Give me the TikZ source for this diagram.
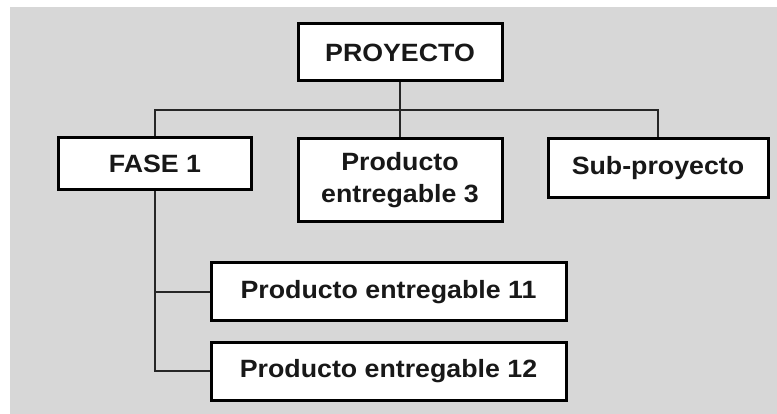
\documentclass[tikz,border=0pt]{standalone}
\usepackage{fontspec}
\setmainfont{Liberation Sans}[FakeStretch=1.07]
\definecolor{bggray}{HTML}{D7D7D7}
\definecolor{txt}{HTML}{181818}
\begin{document}
\begin{tikzpicture}[x=1pt,y=-1pt,
  box/.style={draw=black, fill=white, line width=3pt, inner sep=0pt,
    font=\fontsize{25}{32}\selectfont\bfseries, text=txt, align=center},
  conn/.style={draw=black!85, line width=1.9pt}]
\useasboundingbox (0,0) rectangle (777,414);
\fill[bggray] (10,7) rectangle (777,414);
\node[box, minimum width=204pt, minimum height=57pt] (proy) at (400,52.5) {PROYECTO};
\node[box, minimum width=193pt, minimum height=52pt] (fase) at (155,164) {FASE 1};
\node[box, minimum width=204pt, minimum height=83pt] (pe3) at (400,180.5) {Producto\\entregable 3};
\node[box, minimum width=220pt, minimum height=59pt] (sub) at (658,168.5) {Sub-proyecto};
\node[box, minimum width=355pt, minimum height=58pt] (pe11) at (388.5,292) {Producto entregable 11};
\node[box, minimum width=355pt, minimum height=58pt] (pe12) at (388.5,371) {Producto entregable 12};
\coordinate (busL) at (155,110);
\draw[conn] (fase.north) -- (busL) -| (sub.north);
\draw[conn] (proy.south) -- (pe3.north);
\draw[conn] (fase.south) |- (pe11.west);
\draw[conn] (fase.south) |- (pe12.west);
\end{tikzpicture}
\end{document}
